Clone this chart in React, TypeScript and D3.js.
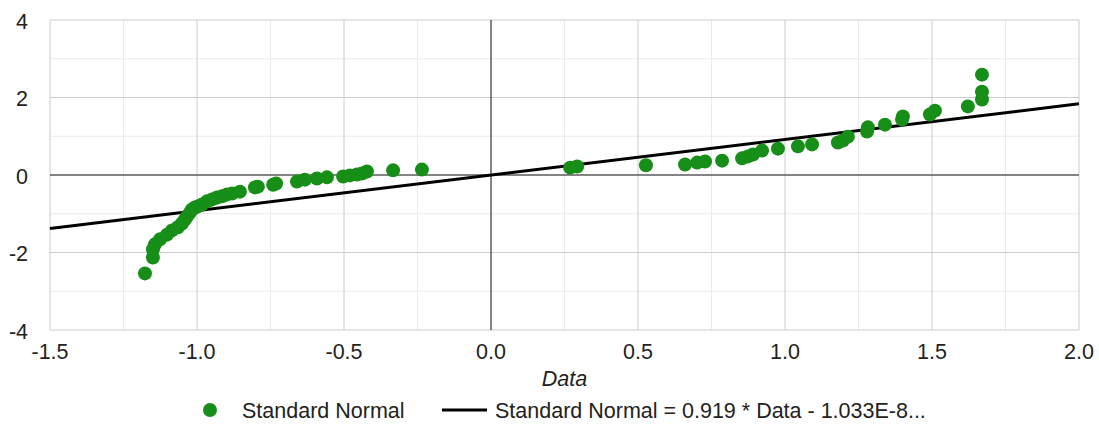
import * as d3 from 'd3';

// sorted sample values (x) and their standard normal quantiles (y)
const dataValues = [
  -1.177, -1.15, -1.15, -1.143, -1.126, -1.102, -1.085, -1.065, -1.051, -1.041,
  -1.034, -1.024, -1.017, -1.007, -0.997, -0.983, -0.966, -0.949, -0.932, -0.915,
  -0.898, -0.881, -0.854, -0.803, -0.793, -0.741, -0.731, -0.66, -0.633, -0.592,
  -0.558, -0.503, -0.48, -0.456, -0.439, -0.422, -0.333, -0.235,
  0.269, 0.293, 0.527, 0.66, 0.701, 0.728, 0.786, 0.854, 0.874, 0.891,
  0.922, 0.976, 1.044, 1.092, 1.18, 1.197, 1.214, 1.279, 1.282, 1.34,
  1.398, 1.401, 1.493, 1.51, 1.622, 1.67, 1.67, 1.67,
];
const normalValues = [
  -2.54, -2.13, -1.92, -1.79, -1.66, -1.54, -1.43, -1.35, -1.25, -1.15,
  -1.07, -0.97, -0.89, -0.84, -0.81, -0.76, -0.68, -0.63, -0.58, -0.55,
  -0.5, -0.48, -0.43, -0.32, -0.3, -0.25, -0.22, -0.17, -0.12, -0.09,
  -0.06, -0.04, -0.01, 0.01, 0.04, 0.09, 0.12, 0.14,
  0.19, 0.22, 0.25, 0.27, 0.32, 0.35, 0.37, 0.43, 0.48, 0.53,
  0.63, 0.68, 0.74, 0.79, 0.84, 0.89, 0.99, 1.12, 1.23, 1.3,
  1.43, 1.51, 1.56, 1.66, 1.77, 1.95, 2.15, 2.59,
];

const slope = 0.919;
const intercept = -1.033e-8;

const xTicks = [-1.5, -1.0, -0.5, 0.0, 0.5, 1.0, 1.5, 2.0];
const xMinorTicks = [-1.25, -0.75, -0.25, 0.25, 0.75, 1.25, 1.75];
const yTicks = [-4, -2, 0, 2, 4];
const yMinorTicks = [-3, -1, 1, 3];

const seriesName = 'Standard Normal';
const trendLabel = 'Standard Normal = 0.919 * Data - 1.033E-8...';

const width = 1099;
const height = 425;
const margin = { top: 20, right: 20, bottom: 95, left: 50 };
const font = 'Arial, "Liberation Sans", sans-serif';
const fontSize = 21.5;
const green = '#178e17';

const App = () => {
  const x = d3
    .scaleLinear()
    .domain([-1.5, 2.0])
    .range([margin.left, width - margin.right]);

  const y = d3
    .scaleLinear()
    .domain([-4, 4])
    .range([height - margin.bottom, margin.top]);

  const trend = d3
    .line<number>()
    .x((d) => x(d))
    .y((d) => y(slope * d + intercept));

  const points = dataValues.map((d, i) => ({ x: d, y: normalValues[i] }));

  return (
    <svg
      width={width}
      height={height}
      style={{ position: 'absolute', left: 0, top: 0, background: '#fff' }}
      fontFamily={font}
    >
      {/* minor grid */}
      {xMinorTicks.map((t) => (
        <line key={'xm' + t} x1={x(t)} x2={x(t)} y1={y(4)} y2={y(-4)} stroke="#ebebeb" />
      ))}
      {yMinorTicks.map((t) => (
        <line key={'ym' + t} x1={x(-1.5)} x2={x(2)} y1={y(t)} y2={y(t)} stroke="#ebebeb" />
      ))}
      {/* major grid */}
      {xTicks.map((t) => (
        <line key={'xg' + t} x1={x(t)} x2={x(t)} y1={y(4)} y2={y(-4)} stroke="#cccccc" />
      ))}
      {yTicks.map((t) => (
        <line key={'yg' + t} x1={x(-1.5)} x2={x(2)} y1={y(t)} y2={y(t)} stroke="#cccccc" />
      ))}
      {/* zero lines */}
      <line x1={x(0)} x2={x(0)} y1={y(4)} y2={y(-4)} stroke="#222" />
      <line x1={x(-1.5)} x2={x(2)} y1={y(0)} y2={y(0)} stroke="#222" />

      <path d={trend([-1.5, 2.0]) ?? ''} fill="none" stroke="#000" strokeWidth={3} />

      {points.map((p, i) => (
        <circle key={i} cx={x(p.x)} cy={y(p.y)} r={7} fill={green} />
      ))}

      {/* tick labels */}
      {xTicks.map((t) => (
        <text key={'xl' + t} x={x(t)} y={359} textAnchor="middle" fontSize={fontSize} fill="#222">
          {t.toFixed(1)}
        </text>
      ))}
      {yTicks.map((t) => (
        <text key={'yl' + t} x={28} y={y(t) + 8.5} textAnchor="end" fontSize={fontSize} fill="#222">
          {String(t)}
        </text>
      ))}

      <text
        x={(margin.left + width - margin.right) / 2}
        y={386}
        textAnchor="middle"
        fontSize={fontSize}
        fontStyle="italic"
        fill="#222"
      >
        Data
      </text>

      {/* legend */}
      <circle cx={210} cy={410} r={7} fill={green} />
      <text x={242} y={417.5} fontSize={fontSize} fill="#222">
        {seriesName}
      </text>
      <line x1={442} x2={487} y1={410} y2={410} stroke="#000" strokeWidth={3} />
      <text x={495} y={417.5} fontSize={fontSize} fill="#222">
        {trendLabel}
      </text>
    </svg>
  );
};

export default App;
